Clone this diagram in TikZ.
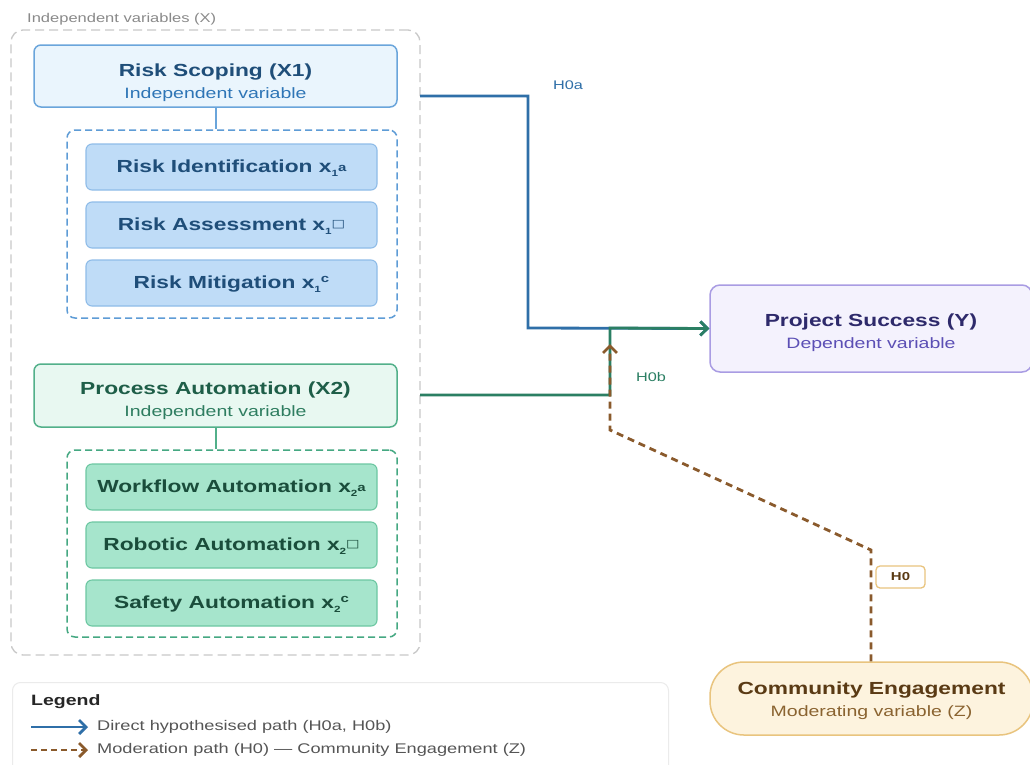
\documentclass[tikz,border=0pt]{standalone}
\usepackage{fontspec}
\setmainfont[FakeStretch=1.3]{Liberation Sans}
\newfontfamily\symfont[FakeStretch=1.3]{DejaVu Sans}
\usetikzlibrary{arrows.meta,calc}
\definecolor{outerc}{HTML}{C9C9C9}
\definecolor{labelc}{HTML}{8A8A8A}
\definecolor{bluefill}{HTML}{EAF5FD}
\definecolor{bluedraw}{HTML}{6AA5DB}
\definecolor{bluegroup}{HTML}{5E9CD6}
\definecolor{bluetitle}{HTML}{1F4E79}
\definecolor{bluesub}{HTML}{2E75B6}
\definecolor{bluesubfill}{HTML}{BFDCF7}
\definecolor{bluesubdraw}{HTML}{8FBCE8}
\definecolor{greenfill}{HTML}{E8F8F1}
\definecolor{greendraw}{HTML}{52B08A}
\definecolor{greengroup}{HTML}{45A882}
\definecolor{greentitle}{HTML}{1E5E48}
\definecolor{greensub}{HTML}{2E7D60}
\definecolor{greensubfill}{HTML}{A6E5CC}
\definecolor{greensubdraw}{HTML}{6DC7A2}
\definecolor{greensubtext}{HTML}{1A4D3B}
\definecolor{psfill}{HTML}{F4F2FD}
\definecolor{psdraw}{HTML}{A99CE3}
\definecolor{pstitle}{HTML}{2E2A6B}
\definecolor{pssub}{HTML}{5B4FB5}
\definecolor{cefill}{HTML}{FDF3DE}
\definecolor{cedraw}{HTML}{E9C47E}
\definecolor{cetitle}{HTML}{5A3A14}
\definecolor{cesub}{HTML}{8A6330}
\definecolor{pathblue}{HTML}{2F6FA8}
\definecolor{pathgreen}{HTML}{2B7F63}
\definecolor{pathbrown}{HTML}{8A5A2C}
\definecolor{legdraw}{HTML}{EBEBEB}
\definecolor{legtext}{HTML}{555555}
\newcommand\titlef{\fontsize{17.5}{22}\selectfont\bfseries}
\newcommand\subf{\fontsize{15}{22}\selectfont}
\newcommand\sbf{\fontsize{17.5}{20}\selectfont\bfseries}
\newcommand\topgap[1]{\rule{0pt}{#1}}
\newcommand\lowi[1]{\raisebox{-0.45ex}{\fontsize{9}{9}\selectfont #1}}
\newcommand\xva[1]{x\lowi{#1}\raisebox{0.05ex}{\fontsize{11.5}{11}\selectfont a}}
\newcommand\xvb[1]{x\lowi{#1}\raisebox{0.35ex}{\fontsize{11}{11}\selectfont\mdseries\symfont □}}
\newcommand\xvc[1]{x\lowi{#1}\raisebox{0.6ex}{\fontsize{11.5}{11}\selectfont c}}
\begin{document}
\begin{tikzpicture}[x=1pt,y=-1pt,
  mainbox/.style={rounded corners=7pt, line width=1.5pt, minimum width=363pt, minimum height=62pt, inner sep=0pt, align=center, font=\fontsize{15}{22}\selectfont},
  subbox/.style={rounded corners=6pt, line width=1.1pt, minimum width=291pt, minimum height=46pt, inner sep=0pt, font=\sbf},
  groupbox/.style={dash pattern=on 7pt off 4pt, rounded corners=8pt, line width=1.5pt, inner sep=0pt},
  conn/.style={line width=2.8pt},
  tip/.style={-{Straight Barb[length=7pt,width=14pt]}},
  hlabel/.style={font=\fontsize{12.5}{14}\selectfont, inner sep=0pt}
]
\useasboundingbox (0,0) rectangle (1030,764);
\fill[white] (0,0) rectangle (1030,764);

% outer group
\node[draw=outerc, dash pattern=on 9pt off 5pt, rounded corners=12pt, line width=1.3pt,
      minimum width=409pt, minimum height=625pt, inner sep=0pt] (outer) at (215.5,342.5) {};
\node[anchor=west, text=labelc, font=\fontsize{12.7}{14}\selectfont, inner sep=0pt] (outerlbl) at (27,19) {Independent variables (X)};

% X1
\node[mainbox, draw=bluedraw, fill=bluefill] (X1) at (215.5,76)
  {{\titlef\color{bluetitle}\topgap{26pt}Risk Scoping (X1)}\\{\subf\color{bluesub}Independent variable}};
\node[groupbox, draw=bluegroup, minimum width=330pt, minimum height=188pt] (in1) at (232,224) {};
\node[subbox, draw=bluesubdraw, fill=bluesubfill, text=bluetitle] (x1a) at (231.5,167) {\topgap{15pt}Risk Identification \xva{1}};
\node[subbox, draw=bluesubdraw, fill=bluesubfill, text=bluetitle] (x1b) at (231.5,225) {\topgap{15pt}Risk Assessment \xvb{1}};
\node[subbox, draw=bluesubdraw, fill=bluesubfill, text=bluetitle] (x1c) at (231.5,283) {\topgap{15pt}Risk Mitigation \xvc{1}};
\draw[bluedraw, line width=2pt] (X1.south) -- (X1.south |- in1.north);

% X2
\node[mainbox, draw=greendraw, fill=greenfill, minimum height=63pt] (X2) at (215.5,395.5)
  {{\titlef\color{greentitle}\topgap{23pt}Process Automation (X2)}\\{\subf\color{greensub}Independent variable}};
\node[groupbox, draw=greengroup, minimum width=330pt, minimum height=187pt] (in2) at (232,543.5) {};
\node[subbox, draw=greensubdraw, fill=greensubfill, text=greensubtext] (x2a) at (231.5,487) {\topgap{15pt}Workflow Automation \xva{2}};
\node[subbox, draw=greensubdraw, fill=greensubfill, text=greensubtext] (x2b) at (231.5,545) {\topgap{15pt}Robotic Automation \xvb{2}};
\node[subbox, draw=greensubdraw, fill=greensubfill, text=greensubtext] (x2c) at (231.5,603) {\topgap{15pt}Safety Automation \xvc{2}};
\draw[greendraw, line width=2pt] (X2.south) -- (X2.south |- in2.north);

% Project success
\node[mainbox, draw=psdraw, fill=psfill, minimum width=322pt, minimum height=87pt, rounded corners=10pt] (PS) at (871,328.5)
  {{\titlef\color{pstitle}\topgap{21pt}Project Success (Y)}\\{\subf\color{pssub}Dependent variable}};

% Community engagement
\node[mainbox, draw=cedraw, fill=cefill, minimum width=323pt, minimum height=73pt, rounded corners=34pt] (CE) at (871.5,698.5)
  {{\titlef\color{cetitle}\topgap{17pt}Community Engagement}\\{\subf\color{cesub}Moderating variable (Z)}};

% paths
\coordinate (bstart) at (420,96);
\coordinate (bturn) at (528,328);
\coordinate (gstart) at (420,395);
\coordinate (gturn) at (610,328);
\draw[conn, pathblue, tip] (bstart) -| (bturn) -- (PS.west);
\draw[conn, pathgreen, tip] (gstart) -| (gturn) -- (PS.west);
\node[hlabel, text=pathblue, anchor=west] (h0a) at (553,85) {H0a};
\node[hlabel, text=pathgreen, anchor=west] (h0b) at (636,377) {H0b};

\coordinate (m1) at (871,550);
\coordinate (m2) at (610,430);
\coordinate (m3) at (610,344);
\draw[conn, pathbrown, dash pattern=on 7pt off 5pt, tip] (CE.north -| m1) -- (m1) -- (m2) -- (m3);
\node[draw=cedraw, fill=white, rounded corners=4pt, line width=1.3pt, minimum width=49pt, minimum height=22pt,
      inner sep=0pt, text=cetitle, font=\fontsize{11.5}{12}\selectfont\bfseries] (h0) at (900.5,577) {H0};

% legend
\node[draw=legdraw, rounded corners=8pt, line width=1pt, minimum width=656pt, minimum height=100pt,
      anchor=north west, inner sep=0pt] (legend) at (12,682) {};
\node[anchor=west, inner sep=0pt, font=\fontsize{15}{16}\selectfont\bfseries, text=black!85] (legtitle) at (31,702) {Legend};
\coordinate (la1) at (31,727);
\coordinate (la2) at (88,727);
\coordinate (lb1) at (31,750);
\coordinate (lb2) at (88,750);
\draw[conn, pathblue, tip] (la1) -- (la2);
\draw[conn, pathbrown, dash pattern=on 6pt off 4pt, tip] (lb1) -- (lb2);
\node[anchor=west, inner sep=0pt, font=\fontsize{14}{16}\selectfont, text=legtext] (lega) at (97,727) {Direct hypothesised path (H0a, H0b)};
\node[anchor=west, inner sep=0pt, font=\fontsize{14}{16}\selectfont, text=legtext] (legb) at (97,750) {Moderation path (H0) — Community Engagement (Z)};
\end{tikzpicture}
\end{document}
